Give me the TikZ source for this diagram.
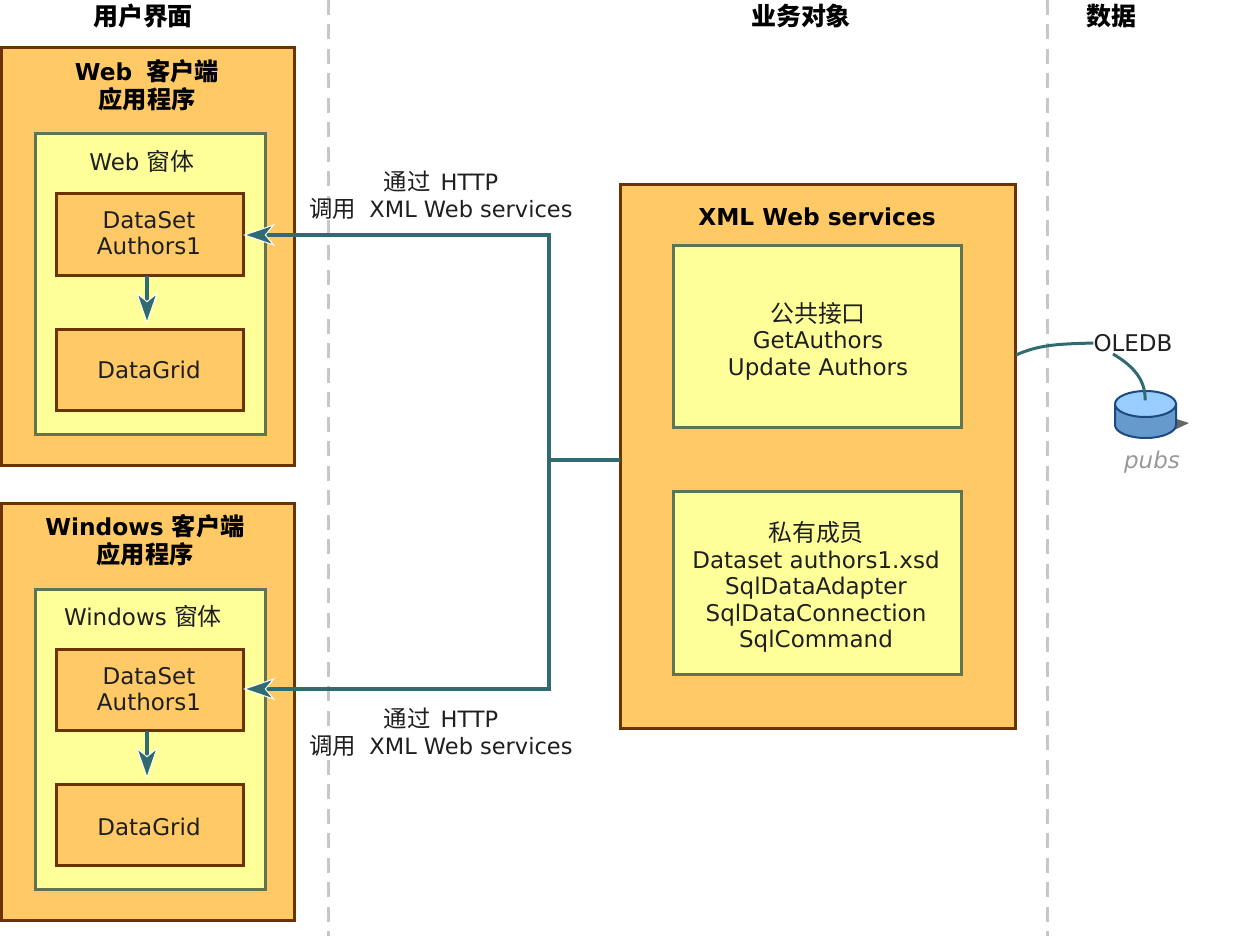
\documentclass[tikz,border=0pt]{standalone}
\usepackage{fontspec}
\setmainfont{DejaVu Sans}
\newfontfamily\cjk[Scale=1.04]{Noto Sans CJK SC}
\usetikzlibrary{arrows.meta,positioning}
\definecolor{orangefill}{HTML}{FFC966}
\definecolor{orangeline}{HTML}{6B3300}
\definecolor{yellowfill}{HTML}{FFFF99}
\definecolor{yellowline}{HTML}{5F7355}
\definecolor{linkcol}{HTML}{2F6B70}
\definecolor{dbtop}{HTML}{99CCFF}
\definecolor{dbside}{HTML}{6699CC}
\definecolor{dbline}{HTML}{1A4A80}
\newcommand{\pxbox}[6]{% name, style, x0, y0, x1, y1
  \node[#2, minimum width=#5pt-#3pt, minimum height=#6pt-#4pt] (#1) at ({(#3+#5)/2},{(#4+#6)/2}) {};}
\tikzset{
  x=1pt, y=-1pt,
  orangebox/.style={draw=orangeline, fill=orangefill, line width=3pt, inner sep=0pt, outer sep=0pt},
  yellowbox/.style={draw=yellowline, fill=yellowfill, line width=3pt, inner sep=0pt, outer sep=0pt},
  txt/.style={align=center, inner sep=0pt, font=\fontsize{23}{26.6}\selectfont, text=black!88},
  calltxt/.style={txt, font=\fontsize{22.5}{27.5}\selectfont},
  boldtxt/.style={align=center, inner sep=0pt, font=\fontsize{23.3}{28}\selectfont\bfseries},
  colhead/.style={align=center, inner sep=0pt, font=\fontsize{24}{28}\selectfont\bfseries},
  lane/.style={draw=black!22, line width=3pt, dash pattern=on 15pt off 9.5pt},
  link/.style={draw=linkcol, line width=3.5pt},
  flow/.style={link, -{Stealth[length=32pt,width=22pt,inset=9pt,fill=linkcol,color=white,line width=1pt]}},
}
\begin{document}
\begin{tikzpicture}
\useasboundingbox (0,0) rectangle (1258,936);
\fill[white] (0,0) rectangle (1258,936);
% lanes
\coordinate (la) at (328,0); \coordinate (lb) at (328,936);
\coordinate (lc) at (1047,0); \coordinate (ld) at (1047,936);
\draw[lane] (la) -- (lb);
\draw[lane] (lc) -- (ld);
% headers
\node[colhead] (h1) at (143,16) {\cjk\bfseries 用户界面};
\node[colhead] (h2) at (801,16) {\cjk\bfseries 业务对象};
\node[colhead] (h3) at (1111,16) {\cjk\bfseries 数据};
% web client
\pxbox{webapp}{orangebox}{1}{48}{294}{465}
\pxbox{webform}{yellowbox}{35}{134}{265}{434}
\pxbox{webds}{orangebox}{56}{194}{243}{275}
\pxbox{webgrid}{orangebox}{56}{329}{243}{410}
\node[boldtxt] (webt) at (147,85) {Web\hspace{6pt} {\cjk\bfseries 客户端}\\{\cjk\bfseries 应用程序}};
\node[txt] (webft) at (142,161) {Web {\cjk 窗体}};
\node[txt] (webdst) at (149,233) {DataSet\\Authors1};
\node[txt] (webgt) at (149,370) {DataGrid};
% windows client
\pxbox{winapp}{orangebox}{1}{503}{294}{920}
\pxbox{winform}{yellowbox}{35}{589}{265}{889}
\pxbox{winds}{orangebox}{56}{649}{243}{730}
\pxbox{wingrid}{orangebox}{56}{784}{243}{865}
\node[boldtxt] (wint) at (145,540) {Windows {\cjk\bfseries 客户端}\\{\cjk\bfseries 应用程序}};
\node[txt] (winft) at (143,616) {Windows {\cjk 窗体}};
\node[txt] (windst) at (149,689) {DataSet\\Authors1};
\node[txt] (wingt) at (149,827) {DataGrid};
% services
\pxbox{svc}{orangebox}{620}{185}{1015}{728}
\pxbox{pub}{yellowbox}{673}{245}{961}{427}
\pxbox{priv}{yellowbox}{673}{491}{961}{674}
\node[boldtxt] (svct) at (817,217) {XML Web services};
\node[txt] (pubt) at (818,341) {{\cjk 公共接口}\\GetAuthors\\Update Authors};
\node[txt] (privt) at (816,587) {{\cjk 私有成员}\\Dataset authors1.xsd\\SqlDataAdapter\\SqlDataConnection\\SqlCommand};
% call labels
\node[calltxt] (call1) at (441,195) {{\cjk 通过}\hspace{3pt} HTTP\\{\cjk 调用}\hspace{6pt} XML Web services};
\node[calltxt] (call2) at (441,732) {{\cjk 通过}\hspace{3pt} HTTP\\{\cjk 调用}\hspace{6pt} XML Web services};
% connectors
\coordinate (junction) at (549,460);
\coordinate (up) at (549,235);
\coordinate (down) at (549,689);
\draw[link] (svc.west |- junction) -- (junction);
\draw[flow] (junction) -- (up) -- (webds.east |- up);
\draw[flow] (junction) -- (down) -- (winds.east |- down);
\coordinate (a1) at (147,276);
\coordinate (a2) at (147,324);
\coordinate (a3) at (147,731);
\coordinate (a4) at (147,779);
\draw[flow, line width=4pt] (a1) -- (a2);
\draw[flow, line width=4pt] (a3) -- (a4);
% database
\fill[black!60] (1170,417) -- (1189,423) -- (1170,432) -- cycle;
\draw[dbline, fill=dbside, line width=2pt] (1115,404) -- (1115,425) arc[start angle=180, end angle=360, x radius=30.5pt, y radius=13pt] -- (1176,404) -- cycle;
\draw[dbline, fill=dbtop, line width=2pt] (1145.5,404) ellipse[x radius=30.5pt, y radius=13pt];
\node[inner sep=0pt, minimum size=1pt] (db) at (1145,401) {};
\node[txt, text=black!40, font=\fontsize{23}{26}\selectfont\itshape] (pubs) at (1152,462) {pubs};
\node[txt] (oledb) at (1133,343) {OLEDB};
\coordinate (svcout) at (1016,355);
\draw[link, line width=3pt] (svcout) .. controls (1040,344) and (1062,344) .. (oledb.west);
\coordinate (oledbout) at (1113,354);
\draw[link, line width=3pt] (oledbout) .. controls (1130,364) and (1146,378) .. (db);
\end{tikzpicture}
\end{document}
